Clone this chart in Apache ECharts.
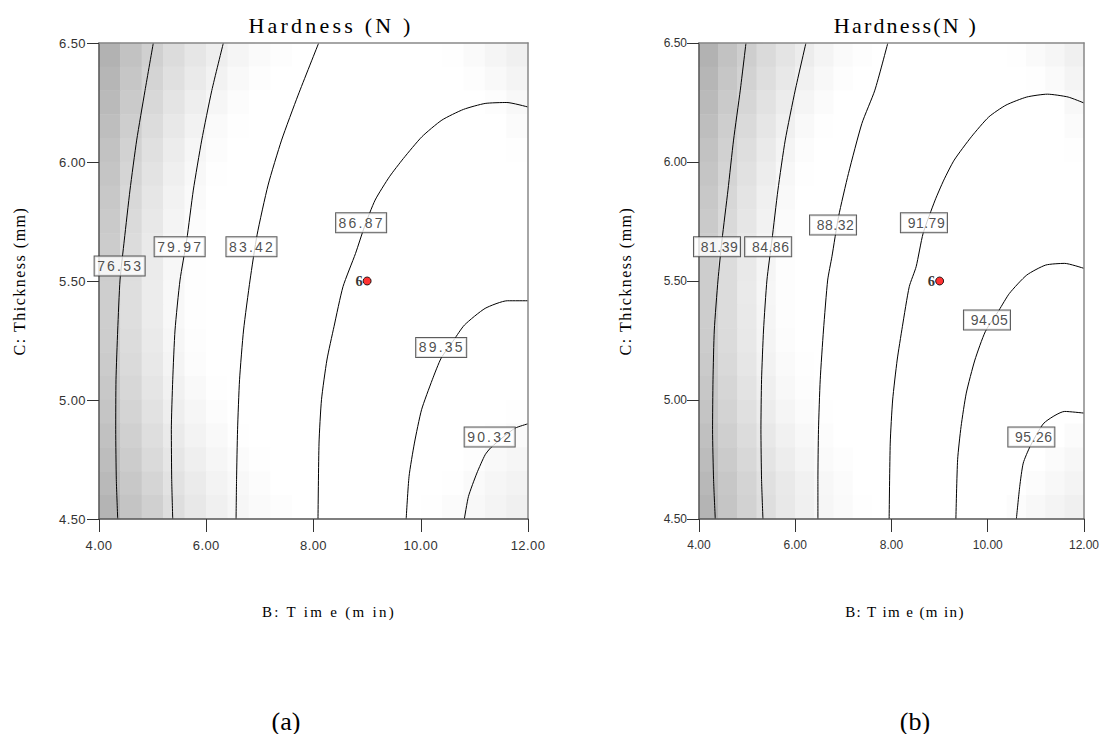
<!DOCTYPE html>
<html>
<head>
<meta charset="utf-8">
<title>Hardness (N) contour plots</title>
<script src="https://cdn.jsdelivr.net/npm/echarts@6.0.0/dist/echarts.min.js"></script>
<style>
  html, body { margin: 0; padding: 0; background: #fff; }
  #wrap { position: relative; width: 1102px; height: 734px; overflow: hidden; }
  .panel { position: absolute; top: 0; height: 734px; }
  #chartA { left: 0; width: 560px; }
  #chartB { left: 560px; width: 542px; }
  /* tracking of the spaced-out lettering, per text size */
  #chartA text[style*="14px"] { letter-spacing: 2.2px; }
  #chartA text[style*="22px"] { letter-spacing: 3.2px; }
  #chartA text[style*="15px"] { letter-spacing: 2.3px; }
  #chartA text[style*="16px"] { letter-spacing: 1.5px; }
  #chartA text[style*="13px"] { letter-spacing: 0.4px; }
  #chartB text[style*="14px"] { letter-spacing: 0.5px; }
  #chartB text[style*="22px"] { letter-spacing: 2.2px; }
  #chartB text[style*="15px"] { letter-spacing: 1.4px; }
  #chartB text[style*="16px"] { letter-spacing: 1.5px; }
</style>
</head>
<body>
<div id="wrap">
  <div id="chartA" class="panel"></div>
  <div id="chartB" class="panel"></div>
</div>
<script>
// ---------- axes ----------
const xRange = { min: 4, max: 12, interval: 2 };       // B: Time (min)
const yRange = { min: 4.5, max: 6.5, interval: 0.5 };  // C: Thickness (mm)

// ---------- design point ----------
const centerPoint = [9.0, 5.5];
const centerPointLabel = '6';

// ---------- panel (a) ----------
const levelsA = [76.53, 79.97, 83.42, 86.87, 89.35, 90.32];
const contoursA = [
  [[5.013,6.5],[4.858,6.30],[4.703,6.092],[4.578,5.882],[4.472,5.672],[4.392,5.504],[4.349,5.294],[4.317,5.085],[4.312,4.875],[4.323,4.665],[4.349,4.5]],
  [[6.319,6.5],[6.103,6.30],[5.916,6.092],[5.759,5.882],[5.636,5.672],[5.511,5.504],[5.418,5.294],[5.375,5.085],[5.349,4.875],[5.356,4.665],[5.375,4.5]],
  [[8.097,6.5],[7.713,6.281],[7.405,6.092],[7.153,5.903],[6.948,5.694],[6.817,5.504],[6.696,5.294],[6.621,5.085],[6.584,4.875],[6.565,4.665],[6.556,4.5]],
  [[12.0,6.231],[11.606,6.250],[11.201,6.246],[10.797,6.221],[10.394,6.176],[10.021,6.106],[9.677,6.015],[9.416,5.938],[9.149,5.840],[8.950,5.728],[8.784,5.616],[8.550,5.476],[8.382,5.308],[8.250,5.168],[8.149,5.001],[8.103,4.819],[8.084,4.5]],
  [[12.0,5.417],[11.614,5.417],[11.201,5.385],[10.815,5.315],[10.616,5.252],[10.381,5.176],[10.215,5.085],[10.015,4.959],[9.882,4.819],[9.782,4.679],[9.728,4.5]],
  [[12.0,4.900],[11.761,4.882],[11.537,4.844],[11.308,4.800],[11.201,4.770],[11.047,4.693],[10.890,4.595],[10.813,4.5]]
];
const labelPosA = [[4.385,5.563],[5.504,5.644],[6.843,5.644],[8.888,5.745],[10.381,5.221],[11.285,4.845]];

// grey level of each shading cell (255 = white), rows from the top edge;
// left block starts at the first column, right block ends at the last column
const shadeLeftA = [
  [178,194,208,220,230,238,245,250,253],
  [182,198,212,224,234,242,249,253],
  [186,202,216,228,238,246,252],
  [190,206,220,232,242,250,254],
  [194,210,224,236,246,252],
  [197,213,227,239,248,254],
  [200,216,230,242,250],
  [202,218,232,244,252],
  [204,220,234,246,253],
  [205,221,235,247,254],
  [206,222,236,248,254],
  [206,222,236,248,254],
  [205,220,234,246,253],
  [203,218,232,244,252,255],
  [200,215,229,241,249,254],
  [197,212,226,238,246,252],
  [193,208,222,234,243,249,254],
  [189,204,218,230,239,246,251,254],
  [185,200,213,226,235,243,248,252],
  [180,196,208,222,232,240,246,250,253]
];
const shadeRightA = [
  [254,250,245,240],
  [253,249,244],
  [253,248],
  [251],
  [254],
  [],[],[],[],[],[],[],[],[],[],
  [254],
  [253,250],
  [253,249,246],
  [254,250,246,243],
  [254,251,248,244,240]
];

// ---------- panel (b) ----------
const levelsB = [81.39, 84.86, 88.32, 91.79, 94.05, 95.26];
const contoursB = [
  [[4.976,6.5],[4.858,6.302],[4.718,6.092],[4.602,5.882],[4.478,5.672],[4.395,5.504],[4.318,5.294],[4.291,5.085],[4.282,4.875],[4.303,4.665],[4.338,4.5]],
  [[6.222,6.5],[6.000,6.302],[5.792,6.092],[5.640,5.882],[5.516,5.672],[5.412,5.504],[5.341,5.294],[5.300,5.085],[5.287,4.875],[5.300,4.665],[5.329,4.5]],
  [[7.924,6.5],[7.655,6.302],[7.385,6.162],[7.106,5.952],[6.899,5.770],[6.762,5.602],[6.674,5.504],[6.587,5.294],[6.519,5.085],[6.483,4.875],[6.471,4.665],[6.471,4.5]],
  [[12.0,6.248],[11.670,6.273],[11.241,6.285],[10.811,6.273],[10.379,6.239],[10.020,6.189],[9.660,6.106],[9.303,6.008],[9.087,5.924],[8.907,5.840],[8.657,5.700],[8.512,5.560],[8.369,5.476],[8.226,5.308],[8.118,5.168],[8.024,5.000],[7.974,4.819],[7.951,4.5]],
  [[12.0,5.553],[11.600,5.574],[11.205,5.567],[10.811,5.525],[10.451,5.448],[10.236,5.378],[9.949,5.287],[9.733,5.168],[9.554,5.029],[9.446,4.889],[9.374,4.749],[9.338,4.5]],
  [[12.0,4.945],[11.600,4.952],[11.168,4.903],[10.881,4.805],[10.738,4.735],[10.665,4.637],[10.595,4.5]]
];
const labelPosB = [[4.374,5.644],[5.437,5.644],[6.785,5.735],[8.674,5.745],[9.984,5.336],[10.906,4.845]];

const shadeLeftB = [
  [178,194,206,218,228,236,244,250,253],
  [182,198,210,222,232,241,248,253],
  [186,202,214,226,236,245,251],
  [190,206,218,230,240,249,254],
  [194,209,222,234,244,252],
  [197,212,225,237,247,254],
  [200,215,228,240,249],
  [202,217,230,242,251],
  [204,219,232,244,252],
  [205,220,233,245,253],
  [205,220,234,246,253],
  [205,220,233,245,253],
  [204,219,232,244,252],
  [202,217,230,242,250,254],
  [199,214,227,239,248,253],
  [196,211,224,236,245,251,254],
  [192,207,220,232,241,248,252],
  [188,203,216,228,237,245,250,253],
  [184,199,212,224,233,241,247,251],
  [180,197,210,222,232,240,246,250,254]
];
const shadeRightB = [
  [254,250,246,240],
  [254,250,244],
  [248],
  [251],
  [254],
  [],[],[],[],[],[],[],[],[],[],[],
  [251],
  [251,247],
  [252,248,244],
  [252,248,244,240]
];

// ---------- builders ----------
const CELLS = 20;
const cellIndex = Array.from({ length: CELLS }, (_, i) => i);

function buildCells(left, right) {
  const cells = [];
  for (let r = 0; r < CELLS; r++) {
    for (let c = 0; c < CELLS; c++) {
      let g = 255;
      if (c < left[r].length) g = left[r][c];
      const k = c - (CELLS - right[r].length);
      if (k >= 0) g = Math.min(g, right[r][k]);
      cells.push([c, r, g]);
    }
  }
  return cells;
}

function buildOption(p) {
  const serif = 'Liberation Serif';
  const sans = 'Liberation Sans';
  const series = [{
    type: 'heatmap',
    xAxisIndex: 1, yAxisIndex: 1,
    data: buildCells(p.shadeLeft, p.shadeRight),
    z: 1, silent: true, progressive: 0,
    emphasis: { disabled: true }
  }];
  p.contours.forEach((path, i) => {
    series.push({
      type: 'line', name: String(p.levels[i]),
      xAxisIndex: 0, yAxisIndex: 0,
      data: path, showSymbol: false, symbol: 'none',
      smooth: 0.2,
      lineStyle: { color: '#000', width: 1 },
      z: 3, silent: true
    });
  });
  series.push({
    type: 'scatter',
    xAxisIndex: 0, yAxisIndex: 0,
    data: p.labelPos.map((q, i) => [q[0], q[1], p.levels[i]]),
    symbolSize: 1,
    itemStyle: { color: 'rgba(0,0,0,0)' },
    label: {
      show: true, position: 'inside',
      formatter: (d) => d.value[2].toFixed(2),
      fontFamily: sans, fontSize: 14, color: '#222',
      lineHeight: 15,
      backgroundColor: '#fff', borderColor: '#333', borderWidth: 1,
      padding: p.labelPadding
    },
    z: 6, silent: true
  });
  series.push({
    type: 'scatter',
    xAxisIndex: 0, yAxisIndex: 0,
    data: [centerPoint],
    symbol: 'circle', symbolSize: 8,
    itemStyle: { color: '#ff0000', borderColor: '#000', borderWidth: 1 },
    label: {
      show: true, position: 'left', distance: 0,
      formatter: centerPointLabel,
      fontFamily: serif, fontWeight: 'bold', fontSize: 14.5, color: '#000'
    },
    z: 7, silent: true
  });

  const txt = (x, y, text, size, extra) => Object.assign({
    type: 'text', x: x, y: y, silent: true,
    style: {
      text: text, fontFamily: serif, fontSize: size, fill: '#000',
      align: 'center', verticalAlign: 'middle',
      textAlign: 'center', textVerticalAlign: 'middle'
    }
  }, extra || {});

  return {
    animation: false,
    backgroundColor: '#fff',
    grid: { left: p.gridLeft, top: 43, width: p.gridWidth, height: 476, containLabel: false },
    xAxis: [{
      type: 'value', min: xRange.min, max: xRange.max, interval: xRange.interval,
      position: 'bottom', z: 5,
      axisLine: { show: true, onZero: false, lineStyle: { color: '#555', width: 1.5 } },
      axisTick: { show: true, length: 13, lineStyle: { color: '#333', width: 1 } },
      axisLabel: { margin: 20, fontFamily: sans, fontSize: p.tickSize, color: '#333',
                   formatter: (v) => v.toFixed(2) },
      splitLine: { show: false }
    }, {
      type: 'category', data: cellIndex, position: 'top', z: 5,
      axisLine: { show: true, onZero: false, lineStyle: { color: '#888', width: 1.5 } },
      axisTick: { show: false }, axisLabel: { show: false }, splitLine: { show: false }
    }],
    yAxis: [{
      type: 'value', min: yRange.min, max: yRange.max, interval: yRange.interval,
      position: 'left', z: 5,
      axisLine: { show: true, onZero: false, lineStyle: { color: '#555', width: 1.5 } },
      axisTick: { show: true, length: 12, lineStyle: { color: '#333', width: 1 } },
      axisLabel: { margin: p.yLabelMargin, fontFamily: sans, fontSize: p.tickSize, color: '#333',
                   formatter: (v) => v.toFixed(2) },
      splitLine: { show: false }
    }, {
      type: 'category', data: cellIndex, inverse: true, position: 'right', z: 5,
      axisLine: { show: true, onZero: false, lineStyle: { color: '#888', width: 1.5 } },
      axisTick: { show: false }, axisLabel: { show: false }, splitLine: { show: false }
    }],
    visualMap: {
      type: 'continuous', show: false, seriesIndex: 0, dimension: 2,
      min: 176, max: 255,
      inRange: { color: ['#b0b0b0', '#ffffff'] }
    },
    graphic: [
      txt(p.titleX, 25, p.title, 22),
      txt(p.xNameX, 612, 'B: T im e (m in)', 15),
      txt(p.yNameX, 281, 'C: Thickness (mm)', 16, { rotation: Math.PI / 2 }),
      txt(p.captionX, 721, p.caption, 26)
    ],
    series: series
  };
}

const chartA = echarts.init(document.getElementById('chartA'), null, { renderer: 'svg' });
chartA.setOption(buildOption({
  levels: levelsA, contours: contoursA, labelPos: labelPosA,
  shadeLeft: shadeLeftA, shadeRight: shadeRightA,
  gridLeft: 99, gridWidth: 429, tickSize: 13, yLabelMargin: 13,
  labelPadding: [3, 7, 1, 8],
  title: 'Hardness (N )', titleX: 331, xNameX: 329, yNameX: 19,
  caption: '(a)', captionX: 286
}));

const chartB = echarts.init(document.getElementById('chartB'), null, { renderer: 'svg' });
chartB.setOption(buildOption({
  levels: levelsB, contours: contoursB, labelPos: labelPosB,
  shadeLeft: shadeLeftB, shadeRight: shadeRightB,
  gridLeft: 139, gridWidth: 385, tickSize: 12, yLabelMargin: 12,
  labelPadding: [3, 3, 1, 8],
  title: 'Hardness(N )', titleX: 346, xNameX: 345, yNameX: 65.5,
  caption: '(b)', captionX: 355
}));
</script>
</body>
</html>
